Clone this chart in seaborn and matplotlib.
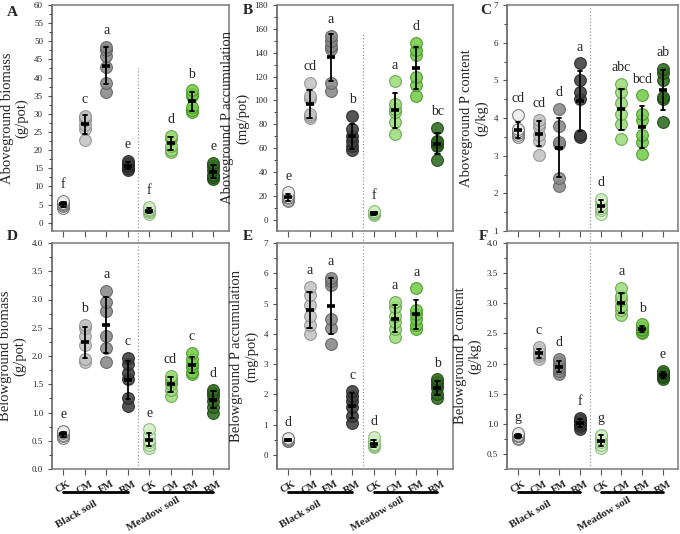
import numpy as np
import pandas as pd
import matplotlib
matplotlib.use("Agg")
import matplotlib.pyplot as plt
from matplotlib.ticker import AutoMinorLocator, FormatStrFormatter
import seaborn as sns

# ------------------------------
# Données (6 répétitions par traitement)
treatments = ["CK", "CM", "FM", "RM"]
soils = ["Black soil", "Meadow soil"]

above_biomass = [
    [4.0, 4.5, 5.0, 5.2, 5.5, 6.0],
    [22.8, 25.8, 27.0, 28.3, 29.0, 29.5],
    [36.0, 38.5, 43.0, 46.0, 47.5, 48.5],
    [14.5, 15.0, 15.5, 16.0, 16.5, 17.0],
    [2.5, 2.8, 3.2, 3.5, 3.8, 4.3],
    [19.5, 20.0, 21.0, 23.0, 23.5, 24.0],
    [30.5, 31.0, 32.0, 35.0, 35.5, 36.5],
    [12.0, 12.5, 13.0, 14.5, 15.5, 16.5],
]
above_P_acc = [
    [15.5, 16.5, 18.0, 19.0, 21.0, 23.0],
    [85, 87, 89, 101, 104, 115],
    [108, 115, 143, 146, 150, 154],
    [58, 62, 66, 70, 76, 87],
    [3.5, 4.5, 5.5, 6.0, 6.5, 7.0],
    [72, 82, 90, 93, 97, 116],
    [104, 113, 120, 138, 142, 148],
    [50, 62, 63, 65, 66, 77],
]
above_P_content = [
    [3.5, 3.55, 3.6, 3.65, 3.7, 4.08],
    [3.02, 3.4, 3.55, 3.75, 3.85, 3.95],
    [2.2, 2.4, 3.3, 3.35, 3.8, 4.25],
    [3.5, 3.55, 4.5, 4.7, 5.0, 5.45],
    [1.45, 1.55, 1.6, 1.7, 1.8, 1.85],
    [3.45, 3.85, 4.1, 4.4, 4.7, 4.9],
    [3.05, 3.35, 3.55, 3.95, 4.1, 4.6],
    [3.9, 4.5, 4.55, 5.0, 5.2, 5.3],
]
below_biomass = [
    [0.55, 0.58, 0.6, 0.63, 0.65, 0.68],
    [1.9, 1.95, 2.2, 2.35, 2.5, 2.55],
    [1.9, 2.15, 2.35, 2.8, 2.95, 3.15],
    [1.12, 1.25, 1.6, 1.7, 1.85, 1.97],
    [0.38, 0.42, 0.48, 0.52, 0.6, 0.7],
    [1.3, 1.4, 1.5, 1.55, 1.6, 1.65],
    [1.68, 1.72, 1.8, 1.85, 1.95, 2.05],
    [1.0, 1.1, 1.2, 1.3, 1.35, 1.4],
]
below_P_acc = [
    [0.45, 0.48, 0.5, 0.5, 0.52, 0.55],
    [4.0, 4.3, 4.6, 4.95, 5.3, 5.55],
    [3.65, 4.2, 4.5, 5.6, 5.75, 5.85],
    [1.05, 1.3, 1.6, 1.8, 1.95, 2.1],
    [0.25, 0.3, 0.33, 0.38, 0.45, 0.58],
    [3.9, 4.15, 4.4, 4.6, 4.9, 5.05],
    [4.15, 4.3, 4.5, 4.65, 4.8, 5.5],
    [1.9, 2.0, 2.2, 2.3, 2.4, 2.5],
]
below_P_content = [
    [0.74, 0.77, 0.79, 0.8, 0.82, 0.84],
    [2.08, 2.12, 2.15, 2.18, 2.22, 2.28],
    [1.82, 1.88, 1.93, 1.97, 2.02, 2.08],
    [0.92, 0.96, 1.0, 1.03, 1.06, 1.1],
    [0.6, 0.65, 0.7, 0.75, 0.8, 0.82],
    [2.8, 2.88, 2.95, 3.05, 3.12, 3.25],
    [2.5, 2.53, 2.56, 2.58, 2.6, 2.65],
    [1.75, 1.77, 1.8, 1.82, 1.85, 1.88],
]

letters_A = ["f", "c", "a", "e", "f", "d", "b", "e"]
letters_B = ["e", "cd", "a", "b", "f", "a", "d", "bc"]
letters_C = ["cd", "cd", "d", "a", "d", "abc", "bcd", "ab"]
letters_D = ["e", "b", "a", "c", "e", "cd", "c", "d"]
letters_E = ["d", "a", "a", "c", "d", "a", "a", "b"]
letters_F = ["g", "c", "d", "f", "g", "a", "b", "e"]

ylabels = [
    "Aboveground biomass\n(g/pot)",
    "Aboveground P accumulation\n(mg/pot)",
    "Aboveground P content\n(g/kg)",
    "Belowground biomass\n(g/pot)",
    "Belowground P accumulation\n(mg/pot)",
    "Belowground P content\n(g/kg)",
]

# ------------------------------
# Style
sns.set_style("ticks")
plt.rcParams["font.family"] = ["Liberation Serif", "DejaVu Serif"]

fills = ["#efefef", "#c3c3c3", "#888888", "#3d3d3d",
         "#d4efc6", "#9edc7c", "#74cc4a", "#2f6a1f"]
edges = ["#6f6f6f", "#8f8f8f", "#5f5f5f", "#262626",
         "#86b876", "#62a245", "#48922a", "#1c4412"]

order = [f"{s}_{t}" for s in soils for t in treatments]

panels = [
    (above_biomass, letters_A, (-2.3, 60), np.arange(0, 61, 5), "%d", 0.72),
    (above_P_acc, letters_B, (-9.5, 180), np.arange(0, 181, 20), "%d", 0.876),
    (above_P_content, letters_C, (1, 7), np.arange(1, 8, 1), "%d", 1.0),
    (below_biomass, letters_D, (0, 4), np.arange(0, 4.01, 0.5), "%.1f", 1.055),
    (below_P_acc, letters_E, (-0.46, 7), np.arange(0, 8, 1), "%d", 1.055),
    (below_P_content, letters_F, (0.25, 4), np.arange(0.5, 4.01, 0.5), "%.1f", 1.055),
]

fig = plt.figure(figsize=(6.8, 5.34), dpi=100)
W, H = 680, 534
lefts = [52, 277, 507]
rights = [229, 453, 678]
tops = [5, 243]
bottoms = [231, 469]
panel_tags = ["A", "B", "C", "D", "E", "F"]
tag_pos = [(7, 12), (243, 10), (480, 10), (7, 236), (243, 236), (479, 236)]

for k, (vals, letters, ylim, yticks, fmt, vmax) in enumerate(panels):
    r, c = divmod(k, 3)
    ax = fig.add_axes([lefts[c] / W, (H - bottoms[r]) / H,
                       (rights[c] - lefts[c]) / W, (bottoms[r] - tops[r]) / H])

    df = pd.DataFrame({
        "grp": np.repeat(order, [len(v) for v in vals]),
        "val": np.concatenate(vals),
    })

    ax.axvline(3.5, ymin=0, ymax=vmax, color="#9a9a9a", ls=":", lw=0.9,
               clip_on=False, zorder=0)

    for i, g in enumerate(order):
        sub = df[df["grp"] == g]
        sns.stripplot(data=sub, x="grp", y="val", order=order, jitter=False,
                      color=fills[i], edgecolor=edges[i], linewidth=0.8,
                      size=8.5, alpha=0.88, ax=ax, zorder=2)

    sns.pointplot(data=df, x="grp", y="val", order=order, errorbar="sd",
                  color="black", markers="_", linestyle="none", capsize=0.2,
                  err_kws={"linewidth": 1.3}, markersize=5.5,
                  markeredgewidth=2.6, ax=ax)
    for line in ax.lines:
        line.set_zorder(4)

    for i, v in enumerate(vals):
        ax.annotate(letters[i], (i, max(v)), xytext=(0, 7),
                    textcoords="offset points", ha="center", va="bottom",
                    fontsize=10)

    ax.set_xlim(-0.53, 7.73)
    ax.set_ylim(*ylim)
    ax.set_yticks(yticks)
    ax.yaxis.set_major_formatter(FormatStrFormatter(fmt))
    ax.yaxis.set_minor_locator(AutoMinorLocator(2))
    ax.tick_params(axis="y", labelsize=6.5, length=3, width=0.8, color="#555555")
    ax.tick_params(axis="y", which="minor", length=2, width=0.6)
    ax.tick_params(axis="x", length=4, width=0.8, color="#555555")
    ax.set_xlabel("")
    ax.set_ylabel(ylabels[k], fontsize=10.5, linespacing=1.1, labelpad=4)
    for sp in ax.spines.values():
        sp.set_visible(True)
        sp.set_color("#7a7a7a")
        sp.set_linewidth(1.1)
    ax.spines["left"].set_color("#555555")

    ax.set_xticks(range(8))
    if r == 0:
        ax.set_xticklabels([])
    else:
        ax.set_xticklabels(treatments * 2, rotation=30, fontsize=7.5,
                           fontweight="bold", ha="center")
        # traits noirs sous les groupes de sol
        for j, s in enumerate(soils):
            x0, x1 = 4 * j, 4 * j + 3
            ax.plot([x0, x1], [-0.1, -0.1], color="black", lw=2,
                    transform=ax.get_xaxis_transform(), clip_on=False)
        ax.text(0.6, -0.2, soils[0], transform=ax.get_xaxis_transform(),
                rotation=30, fontsize=8, fontweight="bold",
                ha="center", va="center")
        ax.text(4.2, -0.2, soils[1], transform=ax.get_xaxis_transform(),
                rotation=30, fontsize=8, fontweight="bold",
                ha="center", va="center")

    fig.text(tag_pos[k][0] / W, 1 - tag_pos[k][1] / H, panel_tags[k],
             fontsize=11, fontweight="bold", ha="left", va="center")

plt.savefig("out.png", dpi=100)
plt.close()
